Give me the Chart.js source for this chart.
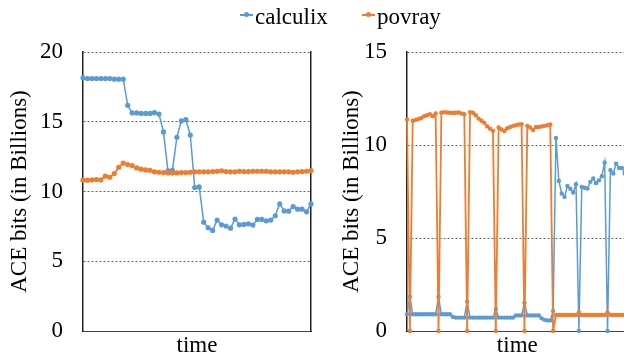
<!DOCTYPE html>
<html>
<head>
<meta charset="utf-8">
<script src="https://cdn.jsdelivr.net/npm/chart.js@4.4.1/dist/chart.umd.min.js"></script>
<style>
  html, body { margin: 0; padding: 0; background: #fff; }
  #wrap { position: relative; width: 624px; height: 355px; overflow: hidden; }
  #leftChart { position: absolute; left: 0; top: 0; }
  #rightChart { position: absolute; left: 330px; top: 0; }
  .item { position: absolute; top: 5px; font: 23px "Liberation Serif", "Times New Roman", serif; line-height: 23px; color: #000; }
  .mark { position: absolute; top: 14px; width: 13px; height: 1.5px; }
  .mark::after { content: ""; position: absolute; left: 4px; top: -2px; width: 5px; height: 5px; border-radius: 50%; background: inherit; }
</style>
</head>
<body>
<div id="wrap">
  <canvas id="leftChart" width="330" height="355"></canvas>
  <canvas id="rightChart" width="310" height="355"></canvas>
  <div class="mark" style="left:240px; background:#5B9BD5"></div>
  <div class="item" style="left:255px">calculix</div>
  <div class="mark" style="left:362px; background:#ED7D31"></div>
  <div class="item" style="left:377px">povray</div>
</div>
<script>
// left panel: 52 samples over time
const calculixLeft = [18.15, 18.1, 18.1, 18.1, 18.1, 18.1, 18.1, 18.05, 18.05, 18.05,
  16.18, 15.63, 15.63, 15.6, 15.6, 15.6, 15.65, 15.55, 14.27, 11.48,
  11.52, 13.89, 15.06, 15.15, 14.05, 10.28, 10.33, 7.8, 7.4, 7.21,
  7.95, 7.61, 7.52, 7.37, 8.02, 7.61, 7.64, 7.68, 7.59, 8.0,
  8.0, 7.9, 7.95, 8.26, 9.11, 8.61, 8.59, 8.92, 8.73, 8.73,
  8.54, 9.11];
const povrayLeft = [10.81, 10.81, 10.83, 10.86, 10.83, 11.1, 11.02, 11.29, 11.74, 12.03,
  11.93, 11.86, 11.69, 11.6, 11.55, 11.52, 11.41, 11.38, 11.36, 11.33,
  11.33, 11.33, 11.36, 11.36, 11.38, 11.41, 11.41, 11.41, 11.41, 11.43,
  11.45, 11.48, 11.43, 11.41, 11.41, 11.45, 11.43, 11.43, 11.45, 11.45,
  11.45, 11.45, 11.41, 11.41, 11.41, 11.41, 11.41, 11.38, 11.41, 11.43,
  11.45, 11.5];

// right panel: 78 samples (cut off at the right edge)
const calculixRight = [0.9, 1.84, 0.9, 0.9, 0.9, 0.9, 0.9, 0.9, 0.9, 0.9,
  0.9, 1.84, 0.9, 0.9, 0.9, 0.9, 0.76, 0.72, 0.72, 0.72,
  0.72, 1.57, 0.72, 0.72, 0.72, 0.72, 0.72, 0.72, 0.72, 0.72,
  0.72, 1.18, 0.72, 0.72, 0.72, 0.72, 0.72, 0.72, 0.84, 0.84,
  0.84, 1.52, 0.84, 0.84, 0.84, 0.84, 0.84, 0.68, 0.6, 0.57,
  0.57, 1.07, 10.38, 8.07, 7.39, 7.21, 7.8, 7.65, 7.45, 7.89,
  0, 7.75, 7.7, 7.66, 8.02, 8.2, 7.95, 8.1, 8.32, 9.06,
  0, 8.65, 8.47, 9.0, 8.77, 8.77, 8.47, 8.5];
const povrayRight = [11.37, 0, 11.3, 11.35, 11.4, 11.45, 11.55, 11.6, 11.65, 11.55,
  11.7, 0, 11.73, 11.77, 11.75, 11.73, 11.72, 11.73, 11.75, 11.7,
  11.65, 0, 11.77, 11.73, 11.6, 11.42, 11.3, 11.19, 11.0, 10.88,
  10.76, 0, 10.94, 10.83, 10.75, 10.9, 10.97, 11.03, 11.06, 11.1,
  11.12, 0, 11.03, 10.94, 10.8, 10.97, 10.97, 11.0, 11.03, 11.06,
  11.1, 0, 0.86, 0.86, 0.86, 0.86, 0.86, 0.86, 0.86, 0.86,
  1.0, 0.86, 0.86, 0.86, 0.86, 0.86, 0.86, 0.86, 0.86, 0.86,
  1.0, 0.86, 0.86, 0.86, 0.86, 0.86, 0.86, 0.86];

const leftTicksMax = 20;
const rightTicksMax = 15;
const tickStep = 5;

const timeLeft = calculixLeft.map((v, i) => i + 1);
const timeRight = calculixRight.map((v, i) => i + 1);

const BLUE = "#5B9BD5";
const ORANGE = "#ED7D31";
const FONT = "'Liberation Serif', 'Times New Roman', serif";

Chart.defaults.font.family = FONT;
Chart.defaults.color = "#000";

function series(label, data, color, order, radius, width) {
  return {
    label: label,
    data: data,
    borderColor: color,
    backgroundColor: color,
    borderWidth: width,
    pointRadius: radius,
    pointBorderWidth: 0,
    pointBackgroundColor: color,
    tension: 0,
    clip: false,
    order: order,
  };
}

function makeChart(id, labels, blueData, orangeData, yMax, axisWidth, padRight, titlePad, withRightBorder, radius) {
  const scales = {
    x: {
      type: "category",
      offset: false,
      ticks: { display: false },
      grid: { display: false, drawTicks: false },
      border: { display: true, color: "#444", width: 1 },
      title: { display: true, text: "time", font: { size: 23, lineHeight: 0.8 }, padding: 0 },
      afterFit: (s) => { s.height = 24; },
    },
    y: {
      min: 0,
      max: yMax,
      // gap between labels and axis comes from an invisible tick mark
      ticks: { stepSize: tickStep, padding: 0, font: { size: 23 } },
      grid: { color: "#666", drawTicks: true, tickLength: 20, tickColor: "rgba(0,0,0,0)" },
      border: { display: true, color: "#222", width: 1.5, dash: [2, 2] },
      title: {
        display: true,
        text: "ACE bits (in Billions)",
        font: { size: 23, lineHeight: 1 },
        padding: { top: titlePad, bottom: 0 },
      },
      afterFit: (s) => { s.width = axisWidth; },
    },
  };
  if (withRightBorder) {
    scales.y2 = {
      position: "right",
      min: 0,
      max: yMax,
      ticks: { display: false },
      grid: { display: false, drawTicks: false },
      border: { display: true, color: "#222", width: 1.5 },
      afterFit: (s) => { s.width = 0; },
    };
  }
  new Chart(document.getElementById(id), {
    type: "line",
    data: {
      labels: labels,
      datasets: [
        series("calculix", blueData, BLUE, 1, radius, 1.5),
        series("povray", orangeData, ORANGE, 0, radius, 1.8),
      ],
    },
    options: {
      responsive: false,
      animation: false,
      layout: { padding: { top: 52, right: padRight, left: 0, bottom: 0 } },
      plugins: { legend: { display: false }, tooltip: { enabled: false } },
      scales: scales,
    },
  });
}

makeChart("leftChart", timeLeft, calculixLeft, povrayLeft, leftTicksMax, 83, 19, 8, true, 2.6);
makeChart("rightChart", timeRight, calculixRight, povrayRight, rightTicksMax, 77, 12.4, 10, false, 2.2);
</script>
</body>
</html>
